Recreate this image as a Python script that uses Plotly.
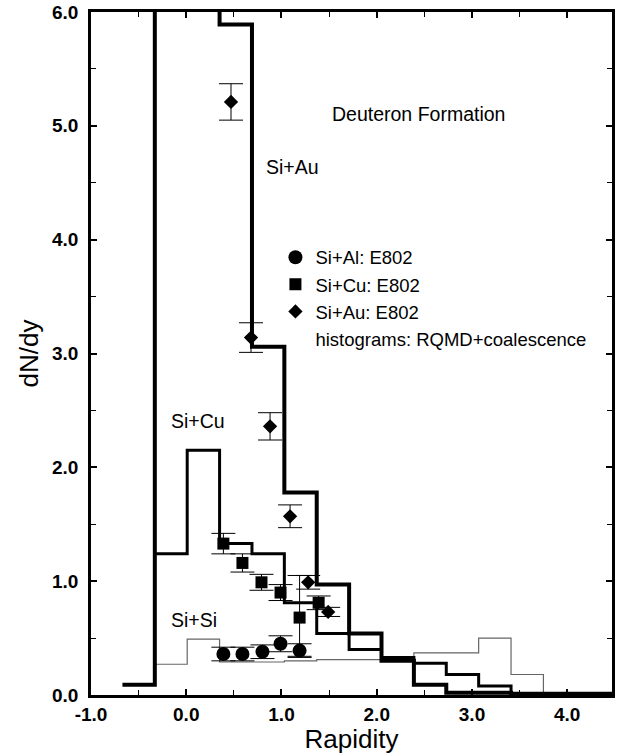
import plotly.graph_objects as go

# ---------------- data ----------------
# histogram bin edges (rapidity)
au_edges = [-0.67, -0.33, 0.01, 0.35, 0.69, 1.03, 1.37, 1.71, 2.05, 2.39, 2.73, 3.07, 3.41, 3.75, 4.09, 4.47]
au_vals = [0.09, 7.5, 7.5, 5.89, 3.06, 1.78, 0.97, 0.54, 0.30, 0.09, 0.02, 0.02, 0.01, 0.01, 0.01]

cu_edges = [-0.33, 0.01, 0.35, 0.69, 1.03, 1.37, 1.71, 2.05, 2.39, 2.73, 3.07, 3.41, 3.75]
cu_vals = [1.24, 2.15, 1.33, 1.24, 0.81, 0.54, 0.40, 0.33, 0.28, 0.18, 0.08, 0.0]

si_edges = [-0.33, 0.01, 0.35, 0.69, 1.03, 1.37, 1.71, 2.05, 2.39, 2.73, 3.07, 3.41, 3.75]
si_vals = [0.27, 0.49, 0.29, 0.29, 0.30, 0.31, 0.31, 0.31, 0.37, 0.37, 0.50, 0.18]
si_tail = 0.0

# E802 data points
al_x = [0.39, 0.59, 0.80, 0.99, 1.19]
al_y = [0.36, 0.36, 0.38, 0.45, 0.39]
al_err = [0.06, 0.06, 0.06, 0.07, 0.06]

cu_x = [0.39, 0.59, 0.79, 0.99, 1.19, 1.39]
cu_y = [1.33, 1.16, 0.99, 0.90, 0.68, 0.81]
cu_err_p = [0.09, 0.08, 0.07, 0.07, 0.37, 0.06]
cu_err_m = [0.09, 0.08, 0.07, 0.07, 0.34, 0.06]

au_x = [0.47, 0.68, 0.88, 1.09, 1.28, 1.49]
au_y = [5.21, 3.14, 2.36, 1.57, 0.99, 0.73]
au_err = [0.16, 0.13, 0.12, 0.10, 0.06, 0.04]

x_ticks = [-1.0, 0.0, 1.0, 2.0, 3.0, 4.0]
y_ticks = [0.0, 1.0, 2.0, 3.0, 4.0, 5.0, 6.0]

FONT = "Liberation Sans, Arial, Helvetica, sans-serif"

fig = go.Figure()


def hist(edges, vals, width, color):
    return go.Scatter(
        x=edges, y=list(vals) + [vals[-1]], mode="lines",
        line=dict(shape="hv", width=width, color=color),
        showlegend=False, hoverinfo="skip")


fig.add_trace(hist(si_edges, si_vals + [si_tail], 1.2, "#666666"))
fig.add_trace(hist(cu_edges, cu_vals, 3, "black"))
fig.add_trace(hist(au_edges, au_vals, 4, "black"))

err_style = dict(type="data", thickness=1, width=12, color="black")

fig.add_trace(go.Scatter(
    x=al_x, y=al_y, mode="markers", name="Si+Al: E802",
    marker=dict(symbol="circle", size=14, color="black"),
    error_y=dict(array=al_err, **err_style)))
fig.add_trace(go.Scatter(
    x=cu_x, y=cu_y, mode="markers", name="Si+Cu: E802",
    marker=dict(symbol="square", size=12, color="black"),
    error_y=dict(array=cu_err_p, arrayminus=cu_err_m, symmetric=False, **err_style)))
fig.add_trace(go.Scatter(
    x=au_x, y=au_y, mode="markers", name="Si+Au: E802",
    marker=dict(symbol="diamond", size=11, color="black"),
    error_y=dict(array=au_err, **err_style)))
fig.add_trace(go.Scatter(
    x=[None], y=[None], mode="markers", name="histograms: RQMD+coalescence",
    marker=dict(size=1, color="rgba(0,0,0,0)")))

labels = [("Si+Au", 0.82, 4.64), ("Si+Cu", -0.18, 2.41), ("Si+Si", -0.18, 0.66),
          ("Deuteron Formation", 1.51, 5.1)]
for txt, lx, ly in labels:
    fig.add_annotation(x=lx, y=ly, text=txt, showarrow=False, xanchor="left",
                       yanchor="middle", font=dict(family=FONT, size=19.5, color="black"))

fig.update_layout(
    width=625, height=754,
    margin=dict(l=91, r=13, t=12, b=59),
    paper_bgcolor="white", plot_bgcolor="white",
    font=dict(family=FONT, color="black"),
    showlegend=True,
    legend=dict(x=0.354, y=0.668, xanchor="left", yanchor="top",
                font=dict(family=FONT, size=18.5, color="black"),
                bgcolor="rgba(0,0,0,0)", tracegroupgap=0, itemsizing="trace"),
)

fig.update_xaxes(
    range=[-1.0, 4.47], tickvals=x_ticks, ticktext=[f"<b>{v:.1f}</b>" for v in x_ticks],
    ticks="inside", ticklen=6, tickwidth=1.5, tickcolor="black",
    minor=dict(dtick=0.5, ticks="inside", ticklen=5, tickwidth=1, tickcolor="black"),
    showline=True, linewidth=2.5, linecolor="black", mirror="ticks",
    showgrid=False, zeroline=False, automargin=False,
    tickfont=dict(family=FONT, size=19, color="black"),
    title=dict(text="Rapidity", font=dict(family=FONT, size=26, color="black"), standoff=3),
)
fig.update_yaxes(
    range=[0, 6.0], tickvals=y_ticks, ticktext=[f"<b>{v:.1f}</b>" for v in y_ticks],
    ticks="inside", ticklen=6, tickwidth=1.5, tickcolor="black",
    minor=dict(dtick=0.5, ticks="inside", ticklen=5, tickwidth=1, tickcolor="black"),
    showline=True, linewidth=2.5, linecolor="black", mirror="ticks",
    showgrid=False, zeroline=False, automargin=False, ticklabelstandoff=6,
    tickfont=dict(family=FONT, size=19, color="black"),
    title=dict(text="dN/dy", font=dict(family=FONT, size=26, color="black"), standoff=6),
)

fig.write_html("out.html")
